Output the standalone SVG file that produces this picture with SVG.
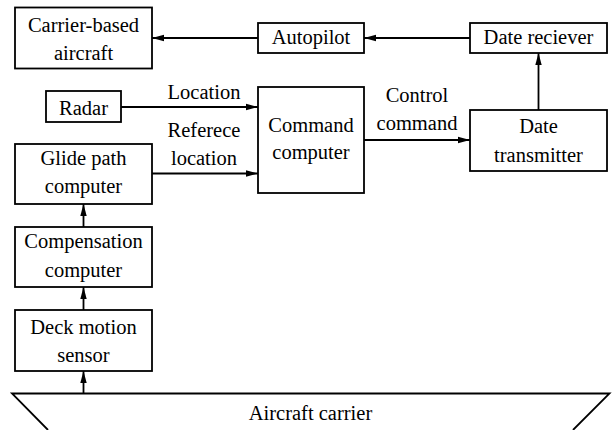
<svg xmlns="http://www.w3.org/2000/svg" width="612" height="430" viewBox="0 0 612 430">
<style>
.box{fill:#fff;stroke:#000;stroke-width:1.8}
.c{stroke:#000;stroke-width:1.8;fill:none;marker-end:url(#ah)}
</style>
<defs>
<marker id="ah" markerUnits="userSpaceOnUse" markerWidth="12" markerHeight="8" refX="12" refY="4" orient="auto">
<path d="M0,0.8 L12,4 L0,7.2 Z" fill="#000"/>
</marker>
</defs>
<rect width="612" height="430" fill="#fff"/>
<g font-family="Liberation Serif" font-size="20.5" text-anchor="middle" fill="#000">
<g id="carrier-based-aircraft"><rect class="box" x="15" y="7.5" width="137" height="61"/><text x="83.5" y="31.5" font-family="Liberation Serif">Carrier-based</text><text x="83.5" y="60" font-family="Liberation Serif">aircraft</text></g>
<g id="autopilot"><rect class="box" x="258" y="23" width="106" height="30"/><text x="311" y="43.5" font-family="Liberation Serif">Autopilot</text></g>
<g id="date-reciever"><rect class="box" x="470" y="23" width="137" height="30"/><text x="538.5" y="43.5" font-family="Liberation Serif">Date reciever</text></g>
<g id="radar"><rect class="box" x="46" y="91" width="75" height="31"/><text x="83.5" y="115" font-family="Liberation Serif">Radar</text></g>
<g id="command-computer"><rect class="box" x="258" y="87" width="106" height="106"/><text x="311" y="131.5" font-family="Liberation Serif">Command</text><text x="311" y="159" font-family="Liberation Serif">computer</text></g>
<g id="date-transmitter"><rect class="box" x="470" y="110" width="137" height="61"/><text x="538.5" y="133" font-family="Liberation Serif">Date</text><text x="538.5" y="161.5" font-family="Liberation Serif">transmitter</text></g>
<g id="glide-path-computer"><rect class="box" x="15" y="144" width="137" height="60"/><text x="83.5" y="165" font-family="Liberation Serif">Glide path</text><text x="83.5" y="193" font-family="Liberation Serif">computer</text></g>
<g id="compensation-computer"><rect class="box" x="15" y="227" width="137" height="60"/><text x="83.5" y="248" font-family="Liberation Serif">Compensation</text><text x="83.5" y="276.5" font-family="Liberation Serif">computer</text></g>
<g id="deck-motion-sensor"><rect class="box" x="15" y="310" width="137" height="61"/><text x="83.5" y="333.5" font-family="Liberation Serif">Deck motion</text><text x="83.5" y="362" font-family="Liberation Serif">sensor</text></g>
<g id="aircraft-carrier"><path d="M48,430 L12,393.5 L609.5,393.5 L573,430" fill="none" stroke="#000" stroke-width="1.8"/><text x="310.5" y="420" font-family="Liberation Serif">Aircraft carrier</text></g>
<g id="connectors">
<line class="c" x1="258" y1="38" x2="152" y2="38"/>
<line class="c" x1="470" y1="38" x2="364" y2="38"/>
<line class="c" x1="538.5" y1="110" x2="538.5" y2="53"/>
<line class="c" x1="121" y1="107" x2="258" y2="107"/>
<line class="c" x1="152" y1="173.5" x2="258" y2="173.5"/>
<line class="c" x1="364" y1="140" x2="470" y2="140"/>
<line class="c" x1="83.5" y1="227" x2="83.5" y2="204"/>
<line class="c" x1="83.5" y1="310" x2="83.5" y2="287"/>
<line class="c" x1="83.5" y1="393.5" x2="83.5" y2="371"/>
<text x="204" y="99" font-family="Liberation Serif">Location</text>
<text x="204" y="136.5" font-family="Liberation Serif">Referece</text>
<text x="204" y="165" font-family="Liberation Serif">location</text>
<text x="417" y="101.5" font-family="Liberation Serif">Control</text>
<text x="417" y="130" font-family="Liberation Serif">command</text>
</g>
</g>
</svg>
